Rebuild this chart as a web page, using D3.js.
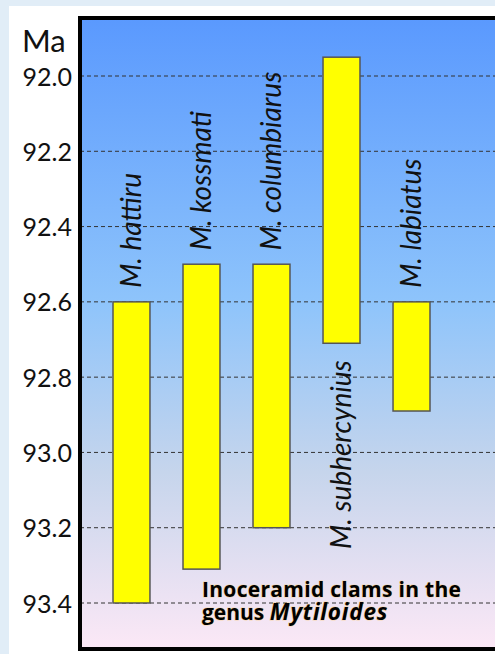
<!DOCTYPE html>
<html><head><meta charset="utf-8">
<script src="https://cdn.jsdelivr.net/npm/d3@7"></script>
<style>
html,body{margin:0;padding:0;background:#e1edf7;}
svg{display:block;}
</style></head>
<body>
<script>
// ---- data ----
const species = ["M. hattiru", "M. kossmati", "M. columbiarus", "M. subhercynius", "M. labiatus"];
const startMa = [92.6, 92.5, 92.5, 91.95, 92.6];   // youngest (top of bar)
const endMa   = [93.4, 93.31, 93.2, 92.71, 92.89]; // oldest (bottom of bar)
const labelSide = ["above", "above", "above", "below", "above"];
const tickValues = [92.0, 92.2, 92.4, 92.6, 92.8, 93.0, 93.2, 93.4];
const axisTitle = "Ma";
const captionLine1 = "Inoceramid clams in the";
const captionLine2a = "genus ";
const captionLine2b = "Mytiloides";

const W = 495, H = 654;
const svg = d3.select("body").append("svg").attr("width", W).attr("height", H);

// white panel
svg.append("rect").attr("x", 9).attr("y", 6).attr("width", W - 9).attr("height", H - 6).attr("fill", "#ffffff");

const box = {x: 80, y: 18, w: 500, h: 631};

const defs = svg.append("defs");
const grad = defs.append("linearGradient").attr("id", "bg").attr("x1", 0).attr("y1", 0).attr("x2", 0).attr("y2", 1);
[["0%", "#5a99fe"], ["45%", "#8ec4fb"], ["72%", "#c6d5ec"], ["100%", "#fce8f6"]].forEach(s =>
  grad.append("stop").attr("offset", s[0]).attr("stop-color", s[1]));
defs.append("clipPath").attr("id", "clip").append("rect")
  .attr("x", box.x).attr("y", box.y).attr("width", box.w).attr("height", box.h);

svg.append("rect").attr("x", box.x).attr("y", box.y).attr("width", box.w).attr("height", box.h)
  .attr("fill", "url(#bg)");

const y = d3.scaleLinear().domain([92.0, 93.4]).range([76, 603]);
const x = d3.scaleBand().domain(species).range([113, 430]).paddingInner(0.472).paddingOuter(0);

const plot = svg.append("g").attr("clip-path", "url(#clip)");

// grid lines
plot.selectAll("line.grid").data(tickValues).join("line")
  .attr("class", "grid")
  .attr("x1", box.x).attr("x2", W)
  .attr("y1", d => y(d)).attr("y2", d => y(d))
  .attr("stroke", "#333").attr("stroke-width", 1).attr("stroke-dasharray", "4,3");

// bars
const data = species.map((s, i) => ({name: s, start: startMa[i], end: endMa[i], side: labelSide[i]}));
plot.selectAll("rect.bar").data(data).join("rect")
  .attr("class", "bar")
  .attr("x", d => x(d.name))
  .attr("width", x.bandwidth())
  .attr("y", d => y(d.start))
  .attr("height", d => y(d.end) - y(d.start))
  .attr("fill", "#ffff00").attr("stroke", "#555").attr("stroke-width", 1.5);

// rotated species labels
const lblSize = 28;
plot.selectAll("text.lbl").data(data).join("text")
  .attr("class", "lbl")
  .attr("transform", d => {
    const cx = x(d.name) + x.bandwidth() / 2;
    const cy = d.side === "above" ? y(d.start) - 14 : y(d.end) + 17;
    return `translate(${cx},${cy}) rotate(-90)`;
  })
  .attr("text-anchor", d => d.side === "above" ? "start" : "end")
  .attr("dy", "0.35em")
  .attr("font-family", "Lato, 'Open Sans', sans-serif")
  .attr("font-style", "italic")
  .attr("font-size", lblSize)
  .attr("fill", "#111")
  .text(d => d.name);

// box border
svg.append("rect").attr("x", box.x).attr("y", box.y).attr("width", box.w).attr("height", box.h)
  .attr("fill", "none").attr("stroke", "#000").attr("stroke-width", 4);

// axis tick labels
const yAxis = d3.axisLeft(y).tickValues(tickValues).tickFormat(d3.format(".1f")).tickSize(0).tickPadding(0);
const ax = svg.append("g").attr("transform", "translate(72,0)").call(yAxis);
ax.select(".domain").remove();
ax.selectAll("text")
  .attr("font-family", "Lato, 'Open Sans', sans-serif")
  .attr("font-size", 25)
  .attr("fill", "#111")
  .attr("dy", "0.36em");

svg.append("text").attr("x", 22).attr("y", 52)
  .attr("font-family", "Lato, 'Open Sans', sans-serif")
  .attr("font-size", 31).attr("fill", "#111")
  .text(axisTitle);

// caption (one text element, two lines)
const cap = svg.append("text")
  .attr("x", 202).attr("y", 597)
  .attr("font-family", "'Open Sans', Lato, sans-serif")
  .attr("font-weight", "bold")
  .attr("font-size", 21)
  .attr("fill", "#000")
  .attr("stroke", "rgba(255,190,0,0.35)").attr("stroke-width", 1.2).attr("paint-order", "stroke");
cap.append("tspan").attr("x", 202).attr("y", 597).attr("letter-spacing", 0.3).text(captionLine1);
cap.append("tspan").attr("x", 202).attr("y", 620).text(captionLine2a);
cap.append("tspan").attr("font-style", "italic").attr("font-size", 22.5).attr("letter-spacing", 0.8).text(captionLine2b);
</script>
</body></html>
